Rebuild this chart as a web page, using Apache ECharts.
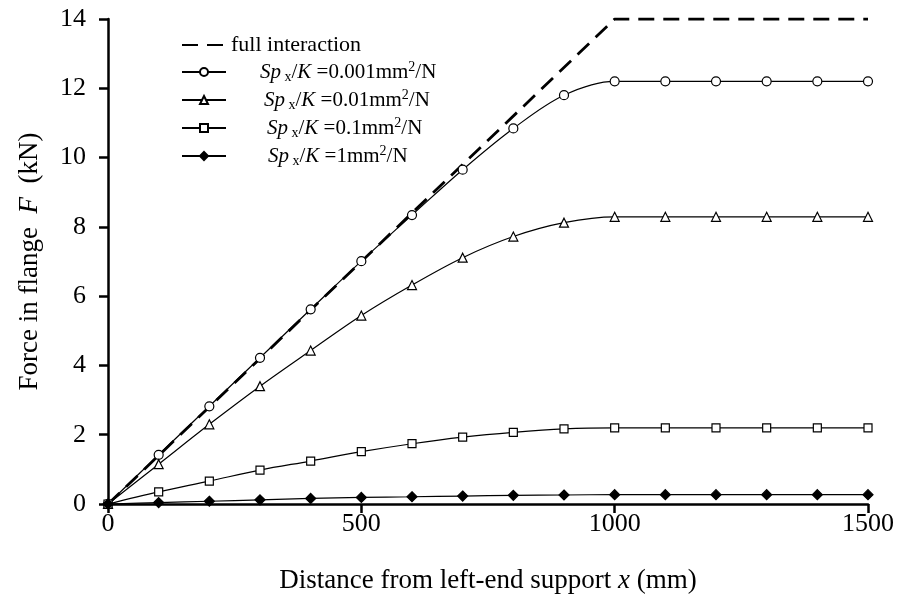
<!DOCTYPE html>
<html>
<head>
<meta charset="utf-8">
<script src="https://cdn.jsdelivr.net/npm/echarts@6/dist/echarts.min.js"></script>
<style>
  html, body { margin: 0; padding: 0; background: #fff; }
  #chart { width: 903px; height: 601px; }
</style>
</head>
<body>
<div id="chart"></div>
<script>
// distance along beam (mm)
var xs = [0, 100, 200, 300, 400, 500, 600, 700, 800, 900, 1000, 1100, 1200, 1300, 1400, 1500];
// full interaction: straight to 1000 mm, flat after
var fullX = [0, 1000, 1500];
var fullY = [0, 14, 14];
// Sp_x/K = 0.001, 0.01, 0.1, 1 mm2/N  (kN)
var s0001 = [0, 1.42, 2.82, 4.22, 5.62, 7.01, 8.34, 9.65, 10.84, 11.8, 12.2, 12.2, 12.2, 12.2, 12.2, 12.2];
var s001  = [0, 1.15, 2.3, 3.4, 4.43, 5.44, 6.32, 7.11, 7.72, 8.12, 8.29, 8.29, 8.29, 8.29, 8.29, 8.29];
var s01   = [0, 0.35, 0.66, 0.98, 1.24, 1.51, 1.74, 1.93, 2.07, 2.17, 2.2, 2.2, 2.2, 2.2, 2.2, 2.2];
var s1    = [0, 0.04, 0.08, 0.12, 0.16, 0.19, 0.21, 0.23, 0.25, 0.26, 0.27, 0.27, 0.27, 0.27, 0.27, 0.27];
var kValues = ['0.001', '0.01', '0.1', '1'];

var font = 'Liberation Serif';

function pairs(xArr, yArr) {
    var out = [];
    for (var i = 0; i < xArr.length; i++) {
        out.push([xArr[i], yArr[i]]);
    }
    return out;
}

function spSeries(name, values, symbol, size, filled) {
    return {
        name: name,
        type: 'line',
        data: pairs(xs, values),
        smooth: 0.35,
        symbol: symbol,
        symbolSize: size,
        showAllSymbol: true,
        lineStyle: { color: '#000', width: 1.2 },
        itemStyle: {
            color: filled ? '#000' : '#fff',
            borderColor: '#000',
            borderWidth: 1.2
        },
        z: 3
    };
}

// rich text pieces for the legend
function tok(extra) {
    var o = { fontSize: 21, fontFamily: font, color: '#000', lineHeight: 24 };
    for (var k in extra) o[k] = extra[k];
    return o;
}

var chart = echarts.init(document.getElementById('chart'));
chart.setOption({
    animation: false,
    backgroundColor: '#fff',
    textStyle: { fontFamily: font, color: '#000' },
    grid: { left: 108, right: 35, top: 19, bottom: 97 },
    legend: {
        orient: 'vertical',
        left: 176,
        top: 29,
        itemWidth: 44,
        itemHeight: 10,
        itemGap: 4,
        data: [
            { name: 'full interaction', itemStyle: { opacity: 0 } },
            'k0', 'k1', 'k2', 'k3'
        ],
        formatter: function (name) {
            if (name === 'full interaction') {
                return '{t|full interaction}';
            }
            var k = kValues[+name.charAt(1)];
            return '{i' + name.charAt(1) + '|Sp}{sub| x}{r|/}{i|K}{r| =' + k + 'mm}{sup|2}{r|/N}';
        },
        textStyle: {
            fontFamily: font,
            color: '#000',
            rich: {
                t: tok({ fontSize: 22 }),
                r: tok({}),
                i: tok({ fontStyle: 'italic' }),
                i0: tok({ fontStyle: 'italic', padding: [0, 0, 0, 29] }),
                i1: tok({ fontStyle: 'italic', padding: [0, 0, 0, 33] }),
                i2: tok({ fontStyle: 'italic', padding: [0, 0, 0, 36] }),
                i3: tok({ fontStyle: 'italic', padding: [0, 0, 0, 37] }),
                sub: tok({ fontSize: 14, lineHeight: 14, verticalAlign: 'bottom' }),
                sup: tok({ fontSize: 14, lineHeight: 14, verticalAlign: 'top' })
            }
        }
    },
    xAxis: {
        type: 'value',
        min: 0,
        max: 1500,
        interval: 500,
        name: '{n|Distance from left-end support }{ni|x}{n| (mm)}',
        nameLocation: 'middle',
        nameGap: 63,
        nameTextStyle: {
            rich: {
                n: { fontSize: 27, fontFamily: font, color: '#000' },
                ni: { fontSize: 27, fontFamily: font, fontStyle: 'italic', color: '#000' }
            }
        },
        axisLine: { lineStyle: { color: '#000', width: 2.5 } },
        axisTick: { show: true, length: 9, lineStyle: { color: '#000', width: 2.5 } },
        axisLabel: {
            fontSize: 26, fontFamily: font, color: '#000', margin: 7,
            formatter: function (v) { return String(v); }
        },
        splitLine: { show: false }
    },
    yAxis: {
        type: 'value',
        min: 0,
        max: 14,
        interval: 2,
        name: '{n|Force in flange  }{ni|F}{n|  (kN)}',
        nameLocation: 'middle',
        nameGap: 65,
        nameRotate: 90,
        nameTextStyle: {
            rich: {
                n: { fontSize: 27, fontFamily: font, color: '#000' },
                ni: { fontSize: 27, fontFamily: font, fontStyle: 'italic', color: '#000' }
            }
        },
        axisLine: { show: true, lineStyle: { color: '#000', width: 2.5 } },
        axisTick: { show: true, length: 9, lineStyle: { color: '#000', width: 2.5 } },
        axisLabel: { fontSize: 26, fontFamily: font, color: '#000', margin: 22 },
        splitLine: { show: false }
    },
    series: [
        {
            name: 'full interaction',
            type: 'line',
            data: pairs(fullX, fullY),
            symbol: 'none',
            lineStyle: { color: '#000', width: 2.8, type: [16, 9] },
            itemStyle: { color: '#000' },
            z: 2
        },
        spSeries('k0', s0001, 'circle', 9, false),
        spSeries('k1', s001, 'triangle', 9, false),
        spSeries('k2', s01, 'rect', 8, false),
        spSeries('k3', s1, 'diamond', 10, true)
    ]
});
</script>
</body>
</html>
